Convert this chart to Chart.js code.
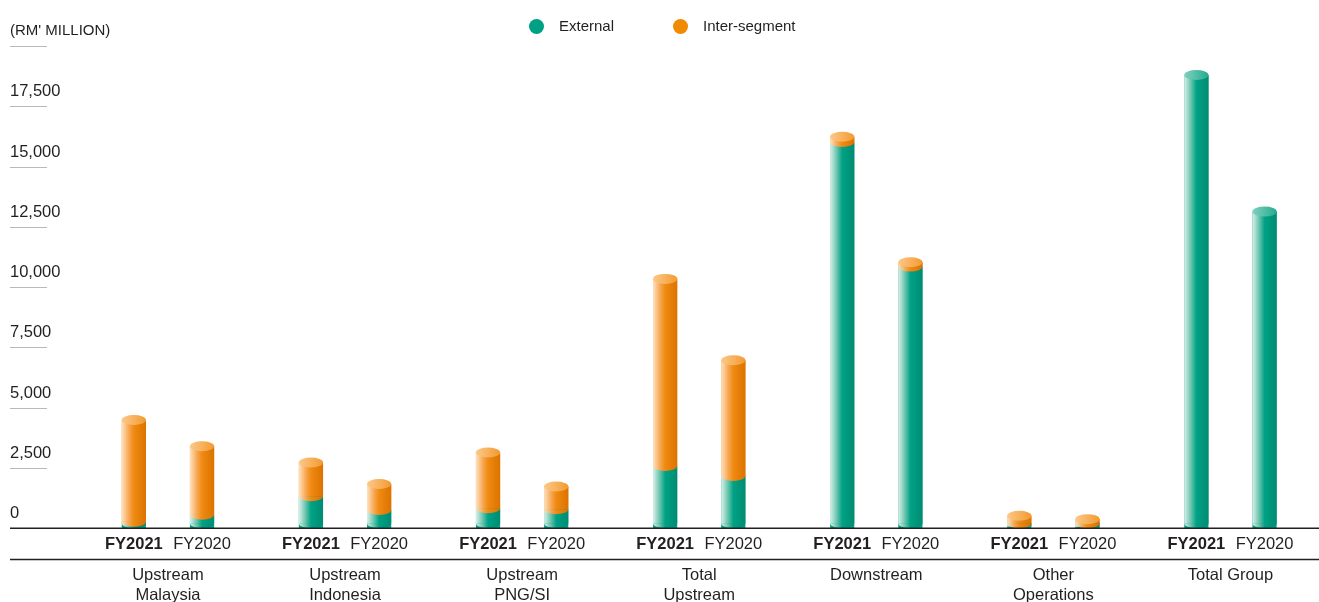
<!DOCTYPE html>
<html>
<head>
<meta charset="utf-8">
<title>Revenue by segment</title>
<script src="https://cdn.jsdelivr.net/npm/chart.js@4.4.1/dist/chart.umd.min.js"></script>
<style>
  html, body { margin: 0; padding: 0; background: #fff; }
  #wrap { position: relative; width: 1319px; height: 602px; }
  #legend { position: absolute; top: 0; left: 0; font: 15px "Liberation Sans", Arial, sans-serif; color: #231f20; }
  #legend .item { position: absolute; top: 17px; display: flex; align-items: center; white-space: nowrap; line-height: 18px; }
  #legend .dot { width: 15px; height: 15px; border-radius: 50%; margin-right: 15px; }
  #unit { position: absolute; left: 10px; top: 21px; font: 15px "Liberation Sans", Arial, sans-serif; color: #231f20; line-height: 18px; white-space: nowrap; }
</style>
</head>
<body>
<div id="wrap">
  <canvas id="chart"></canvas>
  <div id="legend"></div>
  <div id="unit"></div>
</div>
<script>
const groupLabels = [
  ["Upstream", "Malaysia"],
  ["Upstream", "Indonesia"],
  ["Upstream", "PNG/SI"],
  ["Total", "Upstream"],
  ["Downstream"],
  ["Other", "Operations"],
  ["Total Group"]
];
const yearLabels = ["FY2021", "FY2020"];
const seriesNames = ["External", "Inter-segment"];

// RM million
const external2021 = [270, 1330, 830, 2580, 16015, 80, 18790];
const inter2021    = [4220, 1400, 2310, 7760, 220, 440, 0];
const external2020 = [560, 760, 790, 2170, 10850, 50, 13130];
const inter2020    = [2840, 1080, 940, 4795, 180, 330, 0];

const yMax = 20000;
const yStep = 2500;
const unitLabel = "(RM' MILLION)";

const FONT = '"Liberation Sans", Arial, sans-serif';
const TEXT = "#231f20";
const GREEN = "#00a084";
const ORANGE = "#f08a00";

// cylinder shading
const bodyStops = {
  green:  [[0, "#dcf0ea"], [0.3, "#5fc1a9"], [0.5, "#00a286"], [1, "#008b71"]],
  orange: [[0, "#fee2c0"], [0.3, "#f7a650"], [0.5, "#f08a12"], [1, "#db7300"]]
};
const capStops = {
  green:  [[0, "#7fd0bd"], [1, "#25ab8f"]],
  orange: [[0, "#fcc889"], [1, "#f39a30"]]
};
const RY = 5;

function hGradient(ctx, x0, x1, stops) {
  const g = ctx.createLinearGradient(x0, 0, x1, 0);
  stops.forEach(s => g.addColorStop(s[0], s[1]));
  return g;
}

// Legend + unit label
document.getElementById("unit").textContent = unitLabel;
const legend = document.getElementById("legend");
const legendLeft = [529, 673];
seriesNames.forEach((name, i) => {
  const item = document.createElement("div");
  item.className = "item";
  item.style.left = legendLeft[i] + "px";
  item.innerHTML = '<span class="dot" style="background:' + [GREEN, ORANGE][i] + '"></span>' + name;
  legend.appendChild(item);
});

// Draws cylinders over the bar elements, plus the axis rules and year labels
const decor = {
  id: "decor",
  afterDatasetsDraw(chart) {
    const ctx = chart.ctx;
    const y0 = chart.scales.y.getPixelForValue(0);
    [[0, 1], [2, 3]].forEach(pair => {
      const lo = chart.getDatasetMeta(pair[0]).data;
      const hi = chart.getDatasetMeta(pair[1]).data;
      lo.forEach((barLo, i) => {
        const segs = [[barLo, "green"], [hi[i], "orange"]]
          .map(s => [s[0].getProps(["x", "y", "base", "width"], true), s[1]])
          .filter(s => Math.abs(s[0].base - s[0].y) > 0.5);
        ctx.save();
        segs.forEach((s, k) => {
          const b = s[0];
          const left = b.x - b.width / 2, right = b.x + b.width / 2;
          ctx.fillStyle = hGradient(ctx, left, right, bodyStops[s[1]]);
          const arcY = Math.min(b.base, y0 - RY);
          ctx.fillRect(left, b.y, b.width, arcY - b.y);
          ctx.beginPath();
          ctx.ellipse(b.x, arcY, b.width / 2, RY, 0, 0, Math.PI);
          ctx.fill();
        });
        const top = segs[segs.length - 1];
        if (top) {
          const b = top[0];
          ctx.fillStyle = hGradient(ctx, b.x - b.width / 2, b.x + b.width / 2, capStops[top[1]]);
          ctx.beginPath();
          ctx.ellipse(b.x, b.y, b.width / 2, RY, 0, 0, Math.PI * 2);
          ctx.fill();
        }
        ctx.restore();
      });
    });
  },
  afterDraw(chart) {
    const ctx = chart.ctx;
    const ys = chart.scales.y;
    const y0 = ys.getPixelForValue(0);
    ctx.save();
    // short rules under the tick labels
    ctx.strokeStyle = "#b9b9b9";
    ctx.lineWidth = 1;
    ys.ticks.forEach(t => {
      if (t.value === 0) return;
      const y = Math.round(ys.getPixelForValue(t.value)) + 0.5;
      ctx.beginPath();
      ctx.moveTo(10, y);
      ctx.lineTo(47, y);
      ctx.stroke();
    });
    // baseline and separator
    ctx.strokeStyle = TEXT;
    ctx.lineWidth = 1.5;
    [y0, y0 + 31.3].forEach(y => {
      ctx.beginPath();
      ctx.moveTo(10, y);
      ctx.lineTo(chart.width, y);
      ctx.stroke();
    });
    // year labels under each bar
    ctx.fillStyle = TEXT;
    ctx.textAlign = "center";
    ctx.textBaseline = "middle";
    [0, 2].forEach((d, k) => {
      ctx.font = (k === 0 ? "bold " : "") + "16.5px " + FONT;
      chart.getDatasetMeta(d).data.forEach(bar => {
        ctx.fillText(yearLabels[k], bar.x, y0 + 16);
      });
    });
    ctx.restore();
  }
};

new Chart(document.getElementById("chart"), {
  type: "bar",
  data: {
    labels: groupLabels,
    datasets: [
      { label: seriesNames[0], data: external2021, stack: yearLabels[0], backgroundColor: GREEN },
      { label: seriesNames[1], data: inter2021, stack: yearLabels[0], backgroundColor: ORANGE },
      { label: seriesNames[0], data: external2020, stack: yearLabels[1], backgroundColor: GREEN },
      { label: seriesNames[1], data: inter2020, stack: yearLabels[1], backgroundColor: ORANGE }
    ]
  },
  options: {
    responsive: true,
    maintainAspectRatio: false,
    animation: false,
    layout: { padding: { left: 10, right: -15.1, top: 45.9, bottom: 0 } },
    datasets: { bar: { categoryPercentage: 0.77, barPercentage: 0.355, borderWidth: 0 } },
    plugins: { legend: { display: false }, tooltip: { enabled: false } },
    scales: {
      x: {
        stacked: true,
        grid: { display: false },
        border: { display: false },
        ticks: {
          color: TEXT,
          font: { family: FONT, size: 16.5, lineHeight: 1.212 },
          padding: 29,
          maxRotation: 0,
          autoSkip: false
        },
        afterFit(scale) { scale.height = 73.7; }
      },
      y: {
        stacked: true,
        min: 0,
        max: yMax,
        grid: { display: false },
        border: { display: false },
        ticks: {
          stepSize: yStep,
          crossAlign: "far",
          labelOffset: -14.5,
          padding: 0,
          color: TEXT,
          font: { family: FONT, size: 16.5 },
          callback: v => v === yMax ? "" : v.toLocaleString("en-US")
        },
        afterFit(scale) { scale.width = 69.4; }
      }
    }
  },
  plugins: [decor]
});
</script>
</body>
</html>
